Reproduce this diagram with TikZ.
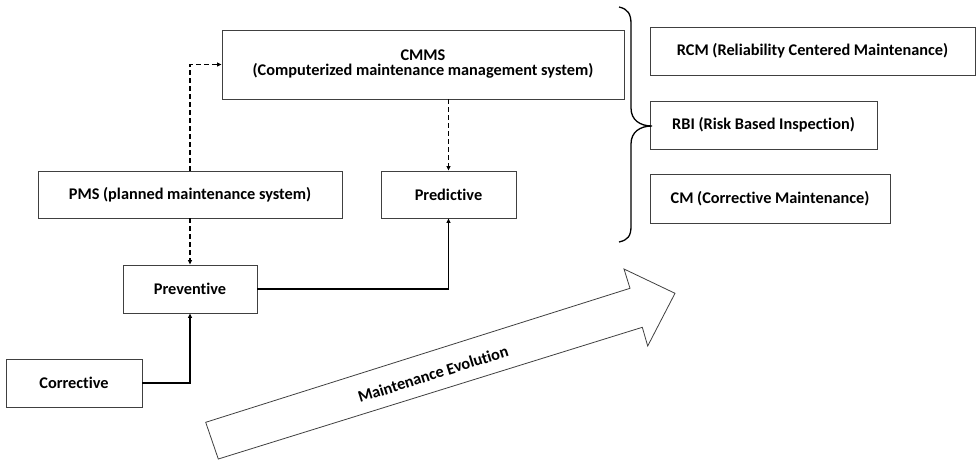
\documentclass[tikz,border=0pt]{standalone}
\usepackage{fontspec}
\setmainfont{Carlito}[Ligatures={NoCommon}]
\usetikzlibrary{arrows.meta}
\begin{document}
\begin{tikzpicture}[x=1pt,y=-1pt,
  box/.style={draw=black!75,line width=0.9pt,fill=white,inner sep=0pt,
    font=\fontsize{16.3}{15}\selectfont\bfseries,align=center},
  solidarrow/.style={line width=1.6pt,-{Triangle[length=4.5pt,width=4pt]}},
  dasharrow/.style={line width=1.6pt,dash pattern=on 5pt off 3pt,-{Triangle[length=4.5pt,width=4pt]}},
  thindash/.style={line width=1pt,dash pattern=on 5pt off 3pt,-{Triangle[length=4.5pt,width=4pt]}},
  bigarrow/.style={draw=black!75,line width=0.8pt,fill=white,line join=miter}]
\useasboundingbox (0,0) rectangle (976,460);
\node[box,minimum width=402pt,minimum height=69pt] (cmms) at (423,64.5)
  {CMMS\\(Computerized maintenance management system)};
\node[box,minimum width=304pt,minimum height=47pt] (pms) at (190,194.5)
  {PMS (planned maintenance system)};
\node[box,minimum width=135pt,minimum height=47pt] (pred) at (448.5,194.5) {Predictive};
\node[box,minimum width=134pt,minimum height=48pt] (prev) at (190,289) {Preventive};
\node[box,minimum width=136pt,minimum height=48pt] (corr) at (74,383) {Corrective};
\node[box,minimum width=325pt,minimum height=48pt] (rcm) at (812.5,51)
  {RCM (Reliability Centered Maintenance)};
\node[box,minimum width=227pt,minimum height=48pt] (rbi) at (763.5,125)
  {RBI (Risk Based Inspection)};
\node[box,minimum width=240pt,minimum height=49pt] (cm) at (770,198.5)
  {CM (Corrective Maintenance)};
% connectors
\draw[dasharrow] (pms.north) |- (cmms.west);
\draw[thindash] (pred.north |- cmms.south) -- (pred.north);
\draw[dasharrow] (pms.south) -- (prev.north);
\draw[solidarrow] (prev.east) -| (pred.south);
\draw[solidarrow] (corr.east) -| (prev.south);
% brace
\draw[line width=1.3pt] (619,7) .. controls (628,9) and (631,14) .. (631,24)
  -- (631,108) .. controls (631,120) and (640,126) .. (652,126)
  .. controls (640,126) and (631,132) .. (631,144)
  -- (631,226) .. controls (631,236) and (628,240) .. (619,242);
% big arrow
\coordinate (t1) at (205.7,422.3);
\coordinate (s1) at (630,288.3);
\coordinate (h1) at (624,269);
\coordinate (tip) at (675,293.3);
\coordinate (h2) at (647.7,346);
\coordinate (s2) at (642.3,327.3);
\coordinate (t2) at (218.3,459);
\draw[bigarrow] (t1) -- (s1) -- (h1) -- (tip) -- (h2) -- (s2) -- (t2) -- cycle;
\node[rotate=17.5,inner sep=0pt,font=\fontsize{16.3}{15}\selectfont\bfseries] (evo) at (433,374) {Maintenance Evolution};
\end{tikzpicture}
\end{document}
